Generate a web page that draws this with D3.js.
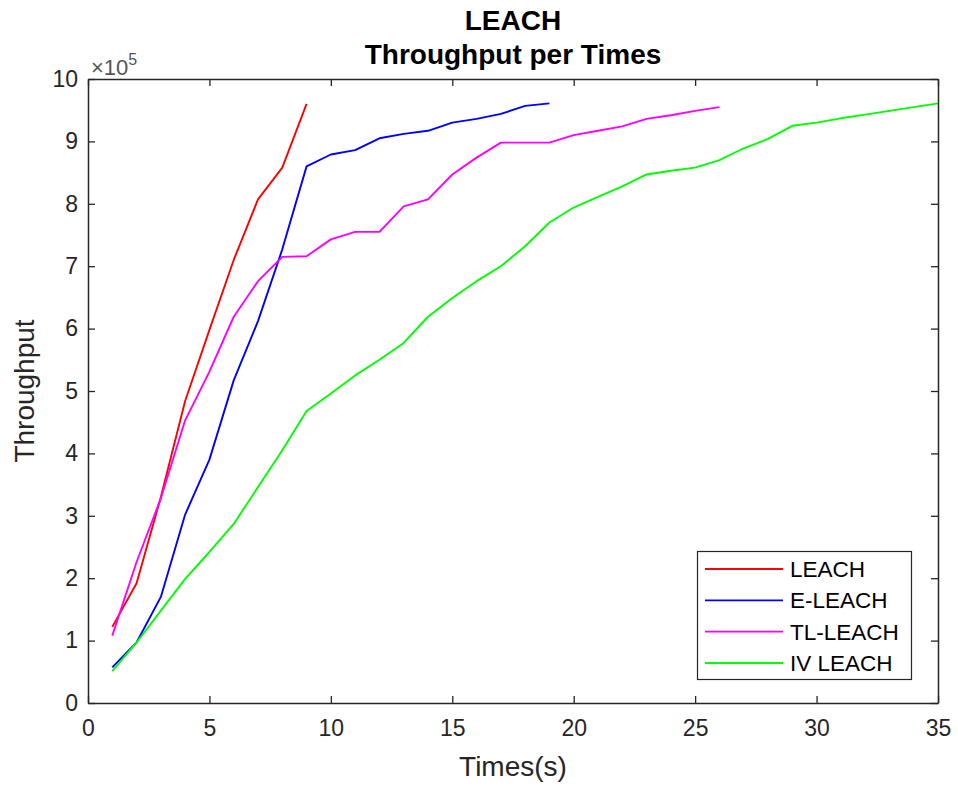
<!DOCTYPE html>
<html>
<head>
<meta charset="utf-8">
<script src="https://cdn.jsdelivr.net/npm/d3@7"></script>
<style>
  html, body { margin: 0; padding: 0; background: #fff; }
  svg { display: block; font-family: "Liberation Sans", Arial, Helvetica, sans-serif; }
</style>
</head>
<body>
<svg id="chart" width="958" height="787"></svg>
<script>
// Throughput (bits) per simulation time step for each protocol
const leach   = [122000, 192000, 330000, 484000, 598000, 710000, 807000, 858000, 960000];
const eLeach  = [57000, 97000, 170000, 302000, 390000, 517000, 612000, 727000, 860000, 879000,
                 886000, 905000, 912000, 917000, 930000, 936000, 944000, 957000, 961000];
const tlLeach = [108000, 226000, 328000, 453000, 531000, 619000, 676000, 715000, 716000, 743000,
                 755000, 755000, 796000, 807000, 847000, 874000, 898000, 898000, 898000, 910000,
                 917000, 924000, 936000, 942000, 949000, 955000];
const ivLeach = [51000, 97000, 148000, 199000, 242000, 287000, 346000, 405000, 468000, 496000,
                 525000, 550000, 577000, 619000, 649000, 676000, 700000, 732000, 770000, 794000,
                 811000, 828000, 847000, 853000, 858000, 870000, 889000, 904000, 925000, 930000,
                 937000, 943000, 949000, 955000, 961000];

const seriesNames  = ["LEACH", "E-LEACH", "TL-LEACH", "IV LEACH"];
const seriesColors = ["#ff0000", "#0000ff", "#ff00ff", "#00ff00"];
const seriesValues = [leach, eLeach, tlLeach, ivLeach];

const xTicks = [0, 5, 10, 15, 20, 25, 30, 35];
const yTicks = [0, 1, 2, 3, 4, 5, 6, 7, 8, 9, 10];
const yExponent = 5;

(function draw() {
  const axisColor = "#262626";
  const svg = d3.select("#chart");

  const pLeft = 88, pRight = 938, pTop = 79, pBottom = 703;
  const x = d3.scaleLinear().domain([0, 35]).range([pLeft, pRight]);
  const y = d3.scaleLinear().domain([0, 10 * Math.pow(10, yExponent)]).range([pBottom, pTop]);
  const yVal = v => v * Math.pow(10, yExponent);

  // series lines
  const line = d3.line().x((d, i) => x(i + 1)).y(d => y(d));
  seriesValues.forEach((vals, k) => {
    svg.append("path").datum(vals)
      .attr("fill", "none")
      .attr("stroke", seriesColors[k])
      .attr("stroke-width", 1.9)
      .attr("stroke-linejoin", "round")
      .attr("d", line);
  });

  // axes with inward ticks on all four sides
  const tickLen = 7;
  const fmtY = d => String(d / Math.pow(10, yExponent));
  const bottomAxis = d3.axisBottom(x).tickValues(xTicks).tickSizeInner(-tickLen).tickSizeOuter(0).tickPadding(17);
  const topAxis    = d3.axisTop(x).tickValues(xTicks).tickSizeInner(-tickLen).tickSizeOuter(0).tickFormat("");
  const leftAxis   = d3.axisLeft(y).tickValues(yTicks.map(yVal)).tickSizeInner(-tickLen).tickSizeOuter(0)
                       .tickPadding(10).tickFormat(fmtY);
  const rightAxis  = d3.axisRight(y).tickValues(yTicks.map(yVal)).tickSizeInner(-tickLen).tickSizeOuter(0).tickFormat("");

  function styleAxis(g) {
    g.select(".domain").attr("stroke", axisColor).attr("stroke-width", 1.5);
    g.selectAll(".tick line").attr("stroke", axisColor).attr("stroke-width", 1.3);
    g.selectAll(".tick text").attr("fill", axisColor).attr("font-size", 23)
      .attr("font-family", "Liberation Sans, Arial, sans-serif");
  }
  svg.append("g").attr("transform", `translate(0,${pBottom})`).call(bottomAxis).call(styleAxis);
  svg.append("g").attr("transform", `translate(0,${pTop})`).call(topAxis).call(styleAxis);
  svg.append("g").attr("transform", `translate(${pLeft},0)`).call(leftAxis).call(styleAxis);
  svg.append("g").attr("transform", `translate(${pRight},0)`).call(rightAxis).call(styleAxis);

  // exponent label above y axis
  const expo = svg.append("text").attr("x", 91).attr("y", 75)
    .attr("fill", "#555").attr("font-size", 22);
  expo.append("tspan").text("\u00d710");
  expo.append("tspan").attr("dy", -10).attr("font-size", 16).text(String(yExponent));

  // titles
  svg.append("text").attr("x", (pLeft + pRight) / 2).attr("y", 30)
    .attr("text-anchor", "middle").attr("font-weight", "bold").attr("font-size", 28)
    .attr("fill", "#000").text("LEACH");
  svg.append("text").attr("x", (pLeft + pRight) / 2).attr("y", 64)
    .attr("text-anchor", "middle").attr("font-weight", "bold").attr("font-size", 28)
    .attr("fill", "#000").text("Throughput per Times");

  // axis labels
  svg.append("text").attr("x", (pLeft + pRight) / 2).attr("y", 776)
    .attr("text-anchor", "middle").attr("font-size", 28).attr("fill", axisColor).text("Times(s)");
  svg.append("text").attr("transform", `translate(34,${(pTop + pBottom) / 2}) rotate(-90)`)
    .attr("text-anchor", "middle").attr("font-size", 28).attr("fill", axisColor).text("Throughput");

  // legend
  const lg = svg.append("g");
  lg.append("rect").attr("x", 697.5).attr("y", 551.5).attr("width", 214).attr("height", 128)
    .attr("fill", "#fff").attr("stroke", axisColor).attr("stroke-width", 1.2);
  const rowY = d3.scalePoint().domain(seriesNames).range([569, 663]);
  seriesNames.forEach((name, k) => {
    const yy = rowY(name);
    lg.append("line").attr("x1", 705).attr("x2", 783).attr("y1", yy).attr("y2", yy)
      .attr("stroke", seriesColors[k]).attr("stroke-width", 1.9);
    lg.append("text").attr("x", 790).attr("y", yy).attr("dy", "0.36em")
      .attr("font-size", 22.5).attr("fill", "#000").text(name);
  });
})();
</script>
</body>
</html>
